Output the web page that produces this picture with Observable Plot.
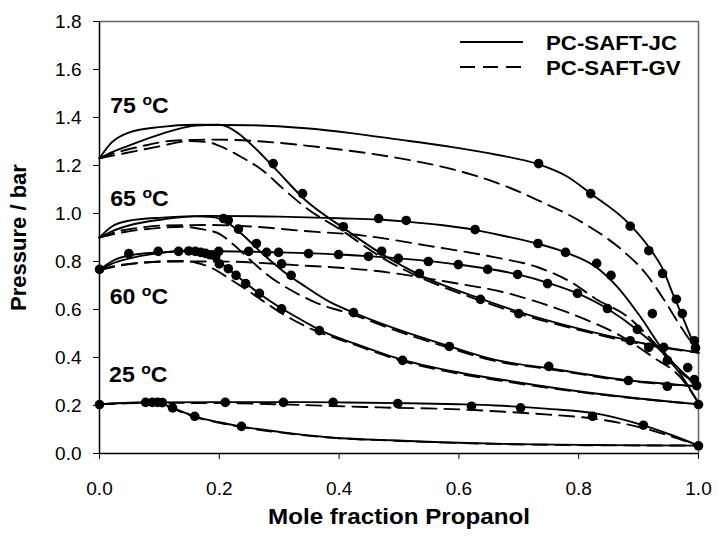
<!DOCTYPE html>
<html>
<head>
<meta charset="utf-8">
<script src="https://cdn.jsdelivr.net/npm/d3@7"></script>
<script src="https://cdn.jsdelivr.net/npm/@observablehq/plot@0.6"></script>
<style>
  body { margin: 0; background: #fff; font-family: "Liberation Sans", Arial, sans-serif; }
  #chart { position: relative; width: 717px; height: 539px; }
  #legend { position: absolute; left: 0; top: 0; pointer-events: none; }
  .wide { transform-box: fill-box; }
</style>
</head>
<body>
<div id="chart"></div>
<script>
// Hexane (x = 0) + 1-propanol (x = 1): P–x–y at four temperatures.
// Each model curve is a list of [mole fraction, pressure / bar] pairs.

const temperatures = [75, 65, 60, 25];
const labelX = [0.018, 0.018, 0.017, 0.016];
const labelP = [1.42, 1.033, 0.625, 0.296];

const xTicks = [0, 0.2, 0.4, 0.6, 0.8, 1.0];
const yTicks = [0, 0.2, 0.4, 0.6, 0.8, 1.0, 1.2, 1.4, 1.6, 1.8];

// PC-SAFT-JC (solid)
const jc75Bubble = [[0,1.23],[0.02,1.295],[0.05,1.338],[0.1,1.36],[0.16,1.37],[0.25,1.368],[0.344,1.355],[0.42,1.335],[0.494,1.31],[0.58,1.28],[0.661,1.246],[0.733,1.205],[0.78,1.155],[0.82,1.083],[0.883,0.96],[0.92,0.85],[0.94,0.77],[0.958,0.66],[0.975,0.56],[0.99,0.47],[1.0,0.42]];
const jc75Dew = [[0,1.23],[0.02,1.255],[0.049,1.283],[0.105,1.333],[0.16,1.366],[0.199,1.37],[0.215,1.36],[0.232,1.333],[0.26,1.272],[0.294,1.185],[0.344,1.055],[0.407,0.94],[0.469,0.835],[0.536,0.742],[0.636,0.645],[0.70,0.59],[0.8,0.52],[0.886,0.47],[0.95,0.44],[1.0,0.42]];
const jc65Bubble = [[0,0.90],[0.02,0.945],[0.049,0.97],[0.105,0.983],[0.177,0.99],[0.3,0.987],[0.4,0.98],[0.466,0.975],[0.512,0.966],[0.57,0.952],[0.626,0.932],[0.678,0.905],[0.733,0.873],[0.778,0.838],[0.83,0.775],[0.866,0.69],[0.9,0.58],[0.95,0.40],[1.0,0.28]];
const jc65Dew = [[0,0.90],[0.02,0.925],[0.049,0.95],[0.105,0.975],[0.16,0.988],[0.189,0.985],[0.216,0.958],[0.244,0.90],[0.272,0.833],[0.305,0.763],[0.344,0.695],[0.382,0.635],[0.424,0.587],[0.5,0.515],[0.584,0.447],[0.661,0.39],[0.75,0.355],[0.883,0.305],[1.0,0.28]];
const jc60Bubble = [[0,0.765],[0.02,0.80],[0.049,0.825],[0.1,0.838],[0.15,0.843],[0.2,0.843],[0.3,0.838],[0.4,0.829],[0.5,0.813],[0.6,0.787],[0.7,0.745],[0.75,0.71],[0.8,0.665],[0.85,0.60],[0.9,0.51],[0.94,0.42],[0.97,0.33],[1.0,0.21]];
const jc60Dew = [[0,0.765],[0.02,0.79],[0.049,0.812],[0.1,0.835],[0.149,0.845],[0.177,0.832],[0.199,0.80],[0.227,0.745],[0.266,0.668],[0.305,0.603],[0.344,0.547],[0.367,0.515],[0.424,0.46],[0.506,0.39],[0.584,0.345],[0.678,0.305],[0.828,0.25],[1.0,0.205]];
const jc25Bubble = [[0,0.205],[0.03,0.21],[0.08,0.213],[0.2,0.214],[0.3,0.214],[0.4,0.213],[0.5,0.21],[0.6,0.205],[0.661,0.2],[0.75,0.186],[0.828,0.167],[0.908,0.117],[0.957,0.075],[1.0,0.033]];
const jc25Dew = [[0,0.205],[0.04,0.21],[0.08,0.213],[0.1,0.21],[0.122,0.19],[0.159,0.155],[0.2,0.13],[0.237,0.112],[0.3,0.09],[0.38,0.068],[0.486,0.055],[0.661,0.041],[0.85,0.035],[1.0,0.033]];

// PC-SAFT-GV (dashed)
const gv75Bubble = [[0,1.23],[0.03,1.255],[0.07,1.28],[0.122,1.303],[0.189,1.308],[0.272,1.30],[0.344,1.283],[0.494,1.233],[0.58,1.19],[0.661,1.13],[0.733,1.054],[0.806,0.963],[0.873,0.846],[0.912,0.75],[0.94,0.65],[0.97,0.53],[1.0,0.42]];
const gv75Dew = [[0,1.23],[0.04,1.25],[0.1,1.28],[0.15,1.302],[0.18,1.298],[0.199,1.283],[0.232,1.242],[0.272,1.18],[0.31,1.096],[0.344,1.025],[0.407,0.925],[0.469,0.82],[0.536,0.733],[0.636,0.637],[0.70,0.583],[0.8,0.515],[0.886,0.465],[1.0,0.42]];
const gv65Bubble = [[0,0.90],[0.03,0.925],[0.07,0.942],[0.105,0.95],[0.177,0.952],[0.26,0.945],[0.332,0.929],[0.44,0.908],[0.55,0.865],[0.661,0.817],[0.733,0.775],[0.79,0.71],[0.828,0.645],[0.883,0.567],[0.923,0.47],[0.962,0.358],[1.0,0.28]];
const gv65Dew = [[0,0.90],[0.04,0.922],[0.1,0.94],[0.14,0.945],[0.17,0.935],[0.2,0.915],[0.224,0.87],[0.25,0.81],[0.28,0.745],[0.32,0.68],[0.36,0.63],[0.424,0.578],[0.5,0.508],[0.584,0.44],[0.661,0.385],[0.75,0.352],[0.883,0.302],[1.0,0.28]];
const gv60Bubble = [[0,0.765],[0.03,0.783],[0.07,0.795],[0.12,0.80],[0.2,0.80],[0.327,0.785],[0.457,0.762],[0.598,0.708],[0.678,0.67],[0.72,0.64],[0.803,0.567],[0.87,0.49],[0.925,0.40],[0.97,0.317],[1.0,0.21]];
const gv60Dew = [[0,0.765],[0.04,0.785],[0.1,0.80],[0.14,0.802],[0.16,0.796],[0.189,0.771],[0.216,0.73],[0.244,0.685],[0.272,0.637],[0.305,0.583],[0.344,0.53],[0.424,0.455],[0.506,0.385],[0.584,0.34],[0.678,0.30],[0.828,0.248],[1.0,0.205]];
const gv25Bubble = [[0,0.205],[0.03,0.209],[0.08,0.211],[0.2,0.21],[0.3,0.205],[0.39,0.198],[0.469,0.192],[0.619,0.182],[0.661,0.176],[0.75,0.162],[0.823,0.146],[0.906,0.107],[0.962,0.065],[1.0,0.033]];
const gv25Dew = [[0,0.205],[0.04,0.209],[0.08,0.211],[0.1,0.207],[0.122,0.187],[0.159,0.152],[0.2,0.128],[0.237,0.11],[0.3,0.088],[0.38,0.067],[0.486,0.054],[0.661,0.04],[0.85,0.034],[1.0,0.033]];

// Experimental points
const obs75x = [0.29,0.339,0.407,0.471,0.534,0.636,0.70,0.886,0.917,0.733,0.82,0.886,0.917,0.94,0.963,0.973,0.993,0.995];
const obs75p = [1.208,1.083,0.945,0.843,0.75,0.642,0.583,0.47,0.442,1.208,1.083,0.947,0.845,0.75,0.643,0.583,0.47,0.44];
const obs65x = [0.207,0.215,0.232,0.262,0.279,0.304,0.32,0.424,0.584,0.75,0.883,0.948,0.466,0.512,0.627,0.732,0.778,0.83,0.854,0.923,0.942,0.982,0.993,0.997];
const obs65p = [0.979,0.971,0.935,0.875,0.838,0.79,0.742,0.587,0.446,0.363,0.304,0.28,0.979,0.971,0.933,0.875,0.838,0.792,0.742,0.583,0.442,0.358,0.308,0.283];
const obs60x = [0,0.049,0.098,0.132,0.149,0.16,0.169,0.177,0.185,0.194,0.2,0.215,0.228,0.244,0.267,0.304,0.367,0.506,0.199,0.249,0.299,0.349,0.399,0.449,0.499,0.549,0.599,0.648,0.698,0.748,0.798,0.848,0.898,0.948,1.0];
const obs60p = [0.767,0.833,0.842,0.842,0.844,0.842,0.838,0.834,0.828,0.82,0.79,0.77,0.742,0.708,0.667,0.603,0.512,0.388,0.842,0.842,0.838,0.833,0.829,0.821,0.813,0.80,0.787,0.767,0.746,0.708,0.667,0.604,0.517,0.388,0.204];
const obs25x = [0,0.077,0.088,0.097,0.105,0.122,0.159,0.237,0.21,0.307,0.39,0.498,0.621,0.703,0.823,0.908,1.0];
const obs25p = [0.204,0.213,0.213,0.213,0.212,0.19,0.155,0.113,0.213,0.213,0.213,0.208,0.197,0.19,0.155,0.118,0.032];

// Flatten curves into long tables with a key per branch
function rowsOf(curves) {
  return Object.entries(curves).flatMap(([key, pts]) => pts.map(([x, p]) => ({key, x, p})));
}
const jcRows = rowsOf({jc75Bubble, jc75Dew, jc65Bubble, jc65Dew, jc60Bubble, jc60Dew, jc25Bubble, jc25Dew});
const gvRows = rowsOf({gv75Bubble, gv75Dew, gv65Bubble, gv65Dew, gv60Bubble, gv60Dew, gv25Bubble, gv25Dew});
const obsRows = [[obs75x, obs75p], [obs65x, obs65p], [obs60x, obs60p], [obs25x, obs25p]]
  .flatMap(([xs, ps]) => xs.map((x, i) => ({x, p: ps[i]})));
const labels = temperatures.map((t, i) => ({t: `${t} °C`, x: labelX[i], p: labelP[i]}));

const font = "Liberation Sans, Arial, sans-serif";
const dash = "15,8";

const chart = Plot.plot({
  width: 717,
  height: 539,
  marginLeft: 99,
  marginRight: 19,
  marginTop: 21,
  marginBottom: 86,
  style: {fontFamily: font, background: "white", color: "black", overflow: "visible"},
  x: {domain: [0, 1]},
  y: {domain: [0, 1.8]},
  marks: [
    Plot.ruleY([1.8], {stroke: "#666", strokeWidth: 1.5}),
    Plot.ruleX([1.0], {stroke: "#666", strokeWidth: 1.5}),
    Plot.line(gvRows, {x: "x", y: "p", z: "key", curve: "monotone-x", stroke: "black", strokeWidth: 1.9, strokeDasharray: dash}),
    Plot.line(jcRows, {x: "x", y: "p", z: "key", curve: "monotone-x", stroke: "black", strokeWidth: 1.9}),
    Plot.dot(obsRows, {x: "x", y: "p", r: 4.8, fill: "black", stroke: "none"}),
    Plot.axisX({ticks: xTicks, tickFormat: d3.format(".1f"), fontSize: 19, tickSize: 6, tickPadding: 22, label: null, stroke: "black", ariaLabel: "x-axis"}),
    Plot.axisY({ticks: yTicks, tickFormat: d3.format(".1f"), fontSize: 19, tickSize: 6, tickPadding: 12, label: null, stroke: "black", ariaLabel: "y-axis"}),
    Plot.ruleX([0], {stroke: "black", strokeWidth: 1.5}),
    Plot.ruleY([0], {stroke: "black", strokeWidth: 1.5}),
    Plot.text(labels, {x: "x", y: "p", text: "t", textAnchor: "start", lineAnchor: "bottom", fontSize: 22, fontWeight: "bold", fill: "black"}),
    Plot.text(["Pressure / bar"], {frameAnchor: "left", textAnchor: "middle", dx: -81, rotate: -90, fontSize: 22, fontWeight: "bold", fill: "black"}),
    Plot.text(["Mole fraction Propanol"], {frameAnchor: "bottom", textAnchor: "middle", dy: 70, fontSize: 22, fontWeight: "bold", fill: "black"})
  ]
});

const svgNS = "http://www.w3.org/2000/svg";

// Temperature labels: number, raised "o", then "C"
chart.querySelectorAll("text").forEach(el => {
  const m = /^(\d+) °C$/.exec(el.textContent);
  if (!m) return;
  el.textContent = "";
  const a = document.createElementNS(svgNS, "tspan");
  a.textContent = m[1] + " ";
  const o = document.createElementNS(svgNS, "tspan");
  o.textContent = "o";
  o.setAttribute("font-size", "15");
  o.setAttribute("dy", "-8");
  const c = document.createElementNS(svgNS, "tspan");
  c.textContent = "C";
  c.setAttribute("dy", "8");
  el.append(a, o, c);
  widen(el, 1.05, "left center");
});

// Slightly wider lettering, scaled about the text's own anchor
function widen(el, k, origin) {
  const g = document.createElementNS(svgNS, "g");
  g.setAttribute("class", "wide");
  g.style.transformOrigin = origin;
  g.style.transform = `scaleX(${k})`;
  el.parentNode.insertBefore(g, el);
  g.appendChild(el);
}
chart.querySelectorAll('g[aria-label="x-axis"] text').forEach(el => widen(el, 1.15, "center"));
chart.querySelectorAll('g[aria-label="y-axis"] text').forEach(el => widen(el, 1.15, "right center"));
chart.querySelectorAll("text").forEach(el => {
  if (el.textContent === "Mole fraction Propanol") widen(el, 1.1, "center");
});

const root = document.getElementById("chart");
root.append(chart);

// Legend for the two model lines
const legendItems = [
  {name: "PC-SAFT-JC", dash: null},
  {name: "PC-SAFT-GV", dash: dash}
];
const legend = d3.select(root).append("svg")
  .attr("id", "legend").attr("width", 717).attr("height", 539);
const rows = legend.selectAll("g").data(legendItems).join("g")
  .attr("transform", (d, i) => `translate(0,${42 + i * 25})`);
rows.append("line")
  .attr("x1", 460).attr("x2", 523).attr("y1", 0).attr("y2", 0)
  .attr("stroke", "black").attr("stroke-width", 1.9)
  .attr("stroke-dasharray", d => d.dash);
rows.append("g")
  .attr("class", "wide")
  .style("transform-origin", "left center")
  .style("transform", "scaleX(1.06)")
  .append("text")
  .attr("x", 546).attr("y", 8)
  .attr("font-family", font).attr("font-size", 21).attr("font-weight", "bold")
  .text(d => d.name);
</script>
</body>
</html>
